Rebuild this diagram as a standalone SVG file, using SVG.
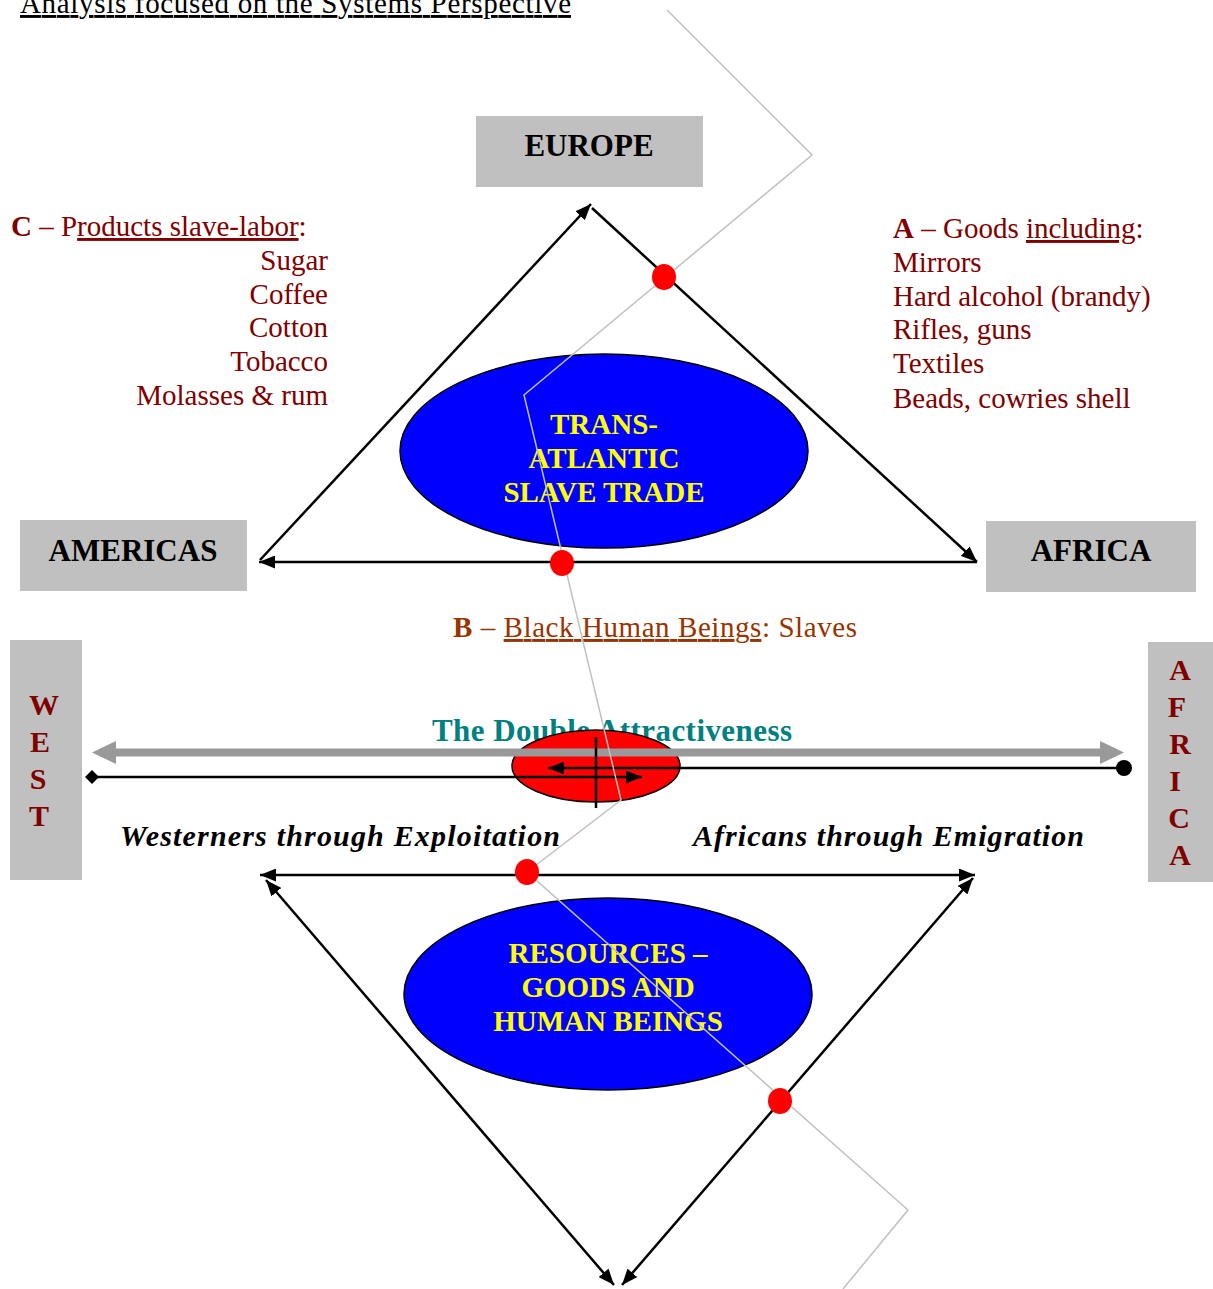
<svg xmlns="http://www.w3.org/2000/svg" width="1213" height="1289" viewBox="0 0 1213 1289">
<defs>
<style>
text{font-family:"Liberation Serif","Times New Roman",serif}
.box{fill:#C0C0C0}
.bt{font-weight:bold;font-size:31px;fill:#000;text-anchor:middle}
.red{fill:#800000;font-size:29px}
.vt{fill:#800000;font-weight:bold;font-size:30px;text-anchor:middle}
.yl{fill:#FFFF00;font-weight:bold;font-size:29px;text-anchor:middle}
.ln{stroke:#000;stroke-width:2.5;fill:none}
.dot{fill:#FF0000}
.blue{fill:#0000FF;stroke:#000;stroke-width:1.5}
.it{font-weight:bold;font-style:italic;font-size:30px;fill:#000}
</style>
<marker id="ah" viewBox="0 0 16 13" refX="16" refY="6.5" markerWidth="16" markerHeight="13" markerUnits="userSpaceOnUse" orient="auto-start-reverse">
<path d="M0,0 L16,6.5 L0,13 z" fill="#000"/>
</marker>
</defs>
<rect width="1213" height="1289" fill="#fff"/>

<text x="20" y="13" font-size="29" fill="#000" text-decoration="underline" textLength="551">Analysis focused on the Systems Perspective</text>

<g id="europe"><rect class="box" x="476" y="116" width="227" height="71"/><text class="bt" x="589" y="156">EUROPE</text></g>
<g id="americas"><rect class="box" x="20" y="520" width="227" height="71"/><text class="bt" x="133" y="561">AMERICAS</text></g>
<g id="africa"><rect class="box" x="986" y="521" width="210" height="71"/><text class="bt" x="1091" y="561">AFRICA</text></g>

<g id="slave-trade"><ellipse class="blue" cx="604" cy="451" rx="204" ry="97"/>
<text class="yl" x="604" y="434">TRANS-</text><text class="yl" x="604" y="468">ATLANTIC</text><text class="yl" x="604" y="502">SLAVE TRADE</text></g>

<g id="resources"><ellipse class="blue" cx="608" cy="994" rx="204" ry="96"/>
<text class="yl" x="608" y="963">RESOURCES –</text><text class="yl" x="608" y="997">GOODS AND</text><text class="yl" x="608" y="1031">HUMAN BEINGS</text></g>

<g id="label-c">
<text x="11" y="236" class="red"><tspan font-weight="bold">C</tspan> – P<tspan text-decoration="underline">roducts slave-labor</tspan>:</text>
<text class="red" x="328" y="270" text-anchor="end">Sugar</text>
<text class="red" x="328" y="304" text-anchor="end">Coffee</text>
<text class="red" x="328" y="337" text-anchor="end">Cotton</text>
<text class="red" x="328" y="371" text-anchor="end">Tobacco</text>
<text class="red" x="328" y="405" text-anchor="end">Molasses &amp; rum</text>
</g>

<g id="label-a">
<text class="red" x="893" y="238"><tspan font-weight="bold">A</tspan> – Goods <tspan text-decoration="underline">including</tspan>:</text>
<text class="red" x="893" y="272">Mirrors</text>
<text class="red" x="893" y="306">Hard alcohol (brandy)</text>
<text class="red" x="893" y="339">Rifles, guns</text>
<text class="red" x="893" y="373">Textiles</text>
<text class="red" x="893" y="408">Beads, cowries shell</text>
</g>

<g id="label-b">
<text x="453" y="637" font-size="29" fill="#993300" textLength="404"><tspan font-weight="bold">B</tspan> – <tspan text-decoration="underline">Black Human Beings</tspan>: Slaves</text>
</g>

<g id="west"><rect class="box" x="10" y="640" width="72" height="240"/>
<text class="vt" x="44" y="715">W</text><text class="vt" x="40" y="752">E</text><text class="vt" x="38" y="789">S</text><text class="vt" x="39" y="826">T</text></g>
<g id="africa-v"><rect class="box" x="1148" y="642" width="65" height="240"/>
<text class="vt" x="1180" y="680">A</text><text class="vt" x="1177" y="717">F</text><text class="vt" x="1180" y="754">R</text><text class="vt" x="1175" y="791">I</text><text class="vt" x="1179" y="828">C</text><text class="vt" x="1180" y="865">A</text></g>

<g id="double-attractiveness">
<text x="432" y="741" font-size="31" font-weight="bold" fill="#008080" textLength="360">The Double Attractiveness</text>
<ellipse cx="596" cy="766" rx="84" ry="36" fill="#FF0000" stroke="#000" stroke-width="1.5"/>
</g>

<text class="it" x="120" y="846" textLength="440">Westerners through Exploitation</text>
<text class="it" x="693" y="846" textLength="391">Africans through Emigration</text>

<g id="connectors">
<line class="ln" x1="260" y1="560" x2="591" y2="204" marker-end="url(#ah)"/>
<line class="ln" x1="592" y1="208" x2="977" y2="562" marker-end="url(#ah)"/>
<line class="ln" x1="977" y1="562" x2="259" y2="562" marker-end="url(#ah)"/>

<line class="ln" x1="260" y1="875" x2="975" y2="875" marker-start="url(#ah)" marker-end="url(#ah)"/>
<line class="ln" x1="266" y1="880" x2="614" y2="1285" marker-start="url(#ah)" marker-end="url(#ah)"/>
<line class="ln" x1="973" y1="878" x2="622" y2="1285" marker-start="url(#ah)" marker-end="url(#ah)"/>

<path d="M92,752.5 L116,741 L116,748.5 L1100,748.5 L1100,741 L1124,752.5 L1100,764 L1100,756.5 L116,756.5 L116,764 Z" fill="#999999"/>
<line class="ln" x1="92" y1="777" x2="642" y2="777" marker-end="url(#ah)"/>
<line class="ln" x1="1124" y1="768" x2="548" y2="768" marker-end="url(#ah)"/>
<path d="M92,770 L99,777 L92,784 L85,777 Z" fill="#000"/>
<circle cx="1124" cy="768" r="8" fill="#000"/>
<line class="ln" x1="596" y1="737" x2="596" y2="808"/>

<polyline points="667,10 812,155 524,395 621,800 527,872 908,1210 843,1289" fill="none" stroke="#C0C0C0" stroke-width="1.5"/>
</g>

<g id="dots">
<ellipse class="dot" cx="664" cy="277" rx="12" ry="13"/>
<ellipse class="dot" cx="562" cy="563" rx="12" ry="13"/>
<ellipse class="dot" cx="527" cy="872" rx="12" ry="13"/>
<ellipse class="dot" cx="780" cy="1101" rx="12" ry="13"/>
</g>
</svg>
